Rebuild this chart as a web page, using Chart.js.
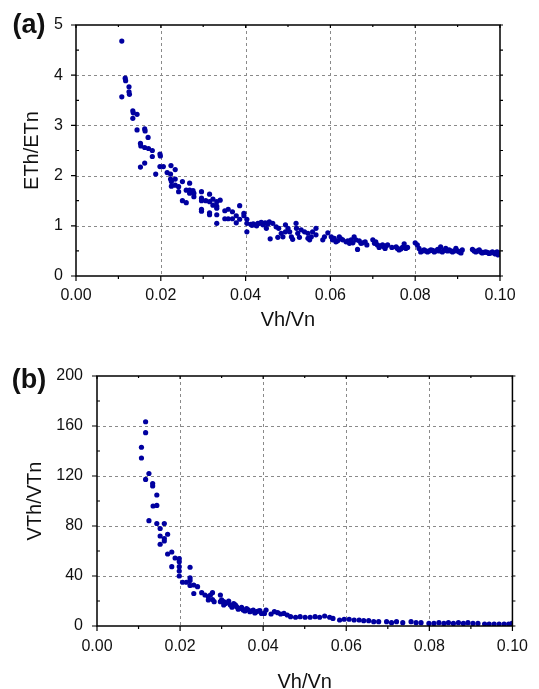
<!DOCTYPE html>
<html><head><meta charset="utf-8">
<script src="https://cdn.jsdelivr.net/npm/chart.js@4.4.1/dist/chart.umd.min.js"></script>
<style>
html,body{margin:0;padding:0;background:#fff;}
#wrap{position:relative;width:539px;height:689px;overflow:hidden;background:#fff;}
canvas{position:absolute;left:0;}
#ca{top:0;width:539px;height:330px;}
#cb{top:330px;width:539px;height:359px;}
</style></head><body>
<div id="wrap"><canvas id="ca" width="539" height="330"></canvas><canvas id="cb" width="539" height="359"></canvas></div>
<script>
// ---- tick labels / axes ----
const xTickValues = [0, 0.02, 0.04, 0.06, 0.08, 0.10];
const etTickValues = [0, 1, 2, 3, 4, 5];
const vtTickValues = [0, 40, 80, 120, 160, 200];
const xMinorValues = [0.01, 0.03, 0.05, 0.07, 0.09];
const etMinorValues = [0.5, 1.5, 2.5, 3.5, 4.5];
const vtMinorValues = [20, 60, 100, 140, 180];

// ---- panel (a): ETh/ETn vs Vh/Vn ----
const etX = [0.0108,0.0116,0.0117,0.0125,0.0125,0.0126,0.0108,0.0134,0.0135,0.0144,0.0134,0.0144,0.0162,0.0163,0.0170,0.0152,0.0153,0.0162,0.0171,0.0180,
0.0198,0.0199,0.0180,0.0162,0.0152,0.0198,0.0206,0.0224,0.0234,0.0188,0.0215,0.0223,0.0223,0.0234,0.0225,0.0234,0.0225,0.0242,0.0242,0.0251,
0.0268,0.0260,0.0268,0.0276,0.0268,0.0278,0.0278,0.0296,0.0315,0.0251,0.0260,0.0296,0.0296,0.0306,0.0315,0.0323,0.0332,0.0340,0.0323,0.0332,
0.0296,0.0296,0.0315,0.0315,0.0332,0.0351,0.0359,0.0369,0.0386,0.0332,0.0332,0.0351,0.0359,0.0369,0.0378,0.0378,0.0386,0.0396,0.0396,0.0403,
0.0403,0.0403,0.0412,0.0415,0.0418,0.0422,0.0426,0.0429,0.0433,0.0437,0.0441,0.0446,0.0449,0.0449,0.0453,0.0456,0.0464,0.0458,0.0472,0.0478,
0.0484,0.0476,0.0494,0.0500,0.0494,0.0488,0.0504,0.0508,0.0511,0.0519,0.0520,0.0523,0.0527,0.0531,0.0539,0.0547,0.0547,0.0555,0.0558,0.0566,
0.0566,0.0551,0.0582,0.0586,0.0594,0.0602,0.0605,0.0609,0.0613,0.0617,0.0621,0.0625,0.0629,0.0637,0.0641,0.0645,0.0649,0.0653,0.0656,0.0660,
0.0664,0.0668,0.0672,0.0676,0.0682,0.0686,0.0700,0.0704,0.0707,0.0711,0.0715,0.0719,0.0723,0.0727,0.0729,0.0731,0.0735,0.0745,0.0755,0.0758,
0.0762,0.0766,0.0770,0.0774,0.0778,0.0782,0.0800,0.0805,0.0809,0.0813,0.0817,0.0821,0.0825,0.0829,0.0833,0.0837,0.0841,0.0845,0.0849,0.0853,
0.0857,0.0860,0.0864,0.0868,0.0872,0.0876,0.0880,0.0884,0.0888,0.0892,0.0896,0.0900,0.0904,0.0908,0.0911,0.0935,0.0939,0.0943,0.0947,0.0951,
0.0955,0.0958,0.0962,0.0966,0.0970,0.0974,0.0978,0.0982,0.0986,0.0989,0.0993,0.0996,0.0999];
const etY = [4.68,3.94,3.89,3.77,3.67,3.62,3.57,3.29,3.25,3.22,3.14,2.91,2.93,2.89,2.76,2.64,2.59,2.56,2.54,2.50,
2.43,2.39,2.38,2.25,2.17,2.18,2.18,2.20,2.12,2.03,2.06,2.03,1.93,1.93,1.88,1.81,1.79,1.78,1.68,1.88,
1.85,1.71,1.71,1.70,1.65,1.65,1.58,1.68,1.63,1.50,1.46,1.55,1.50,1.50,1.48,1.53,1.48,1.51,1.41,1.39,
1.33,1.29,1.26,1.22,1.35,1.30,1.33,1.28,1.40,1.22,1.05,1.14,1.14,1.14,1.20,1.06,1.13,1.25,1.20,1.13,
1.05,0.88,1.03,1.01,1.04,1.02,1.00,1.05,1.05,1.07,1.02,1.06,1.05,0.95,1.04,1.08,1.05,0.74,0.98,0.95,
0.85,0.77,1.02,0.95,0.88,0.78,0.88,0.78,0.73,1.05,0.95,0.85,0.77,0.92,0.88,0.85,0.75,0.78,0.88,0.95,
0.82,0.72,0.72,0.78,0.86,0.78,0.72,0.75,0.68,0.70,0.78,0.74,0.72,0.68,0.70,0.65,0.72,0.66,0.78,0.72,
0.53,0.70,0.65,0.66,0.68,0.62,0.72,0.65,0.68,0.62,0.57,0.60,0.62,0.58,0.55,0.60,0.62,0.57,0.58,0.55,
0.52,0.54,0.57,0.64,0.55,0.57,0.66,0.62,0.55,0.48,0.50,0.52,0.50,0.48,0.50,0.52,0.51,0.48,0.50,0.53,
0.50,0.58,0.48,0.51,0.55,0.50,0.52,0.50,0.48,0.50,0.55,0.50,0.48,0.46,0.52,0.53,0.50,0.48,0.50,0.52,
0.48,0.46,0.47,0.48,0.47,0.45,0.46,0.48,0.46,0.44,0.48,0.42,0.46];

// ---- panel (b): VTh/VTn vs Vh/Vn ----
const vtX = [0.0117,0.0117,0.0107,0.0107,0.0125,0.0117,0.0134,0.0134,0.0144,0.0135,0.0144,0.0125,0.0144,0.0162,0.0152,0.0170,0.0152,0.0162,0.0162,0.0152,
0.0180,0.0170,0.0188,0.0198,0.0198,0.0180,0.0198,0.0224,0.0198,0.0198,0.0224,0.0224,0.0206,0.0215,0.0233,0.0242,0.0224,0.0233,0.0252,0.0260,
0.0268,0.0278,0.0278,0.0268,0.0273,0.0282,0.0297,0.0297,0.0300,0.0305,0.0305,0.0309,0.0313,0.0317,0.0321,0.0325,0.0329,0.0333,0.0336,0.0340,
0.0344,0.0348,0.0352,0.0356,0.0360,0.0364,0.0368,0.0372,0.0376,0.0380,0.0384,0.0388,0.0392,0.0396,0.0403,0.0407,0.0419,0.0427,0.0435,0.0442,
0.0450,0.0458,0.0466,0.0478,0.0489,0.0501,0.0513,0.0525,0.0536,0.0548,0.0560,0.0568,0.0584,0.0595,0.0607,0.0619,0.0631,0.0642,0.0654,0.0666,
0.0678,0.0697,0.0709,0.0721,0.0736,0.0756,0.0768,0.0780,0.0799,0.0811,0.0823,0.0835,0.0846,0.0858,0.0870,0.0882,0.0893,0.0905,0.0917,0.0933,
0.0944,0.0956,0.0968,0.0980,0.0991,0.0999];
const vtY = [163.4,154.7,143.0,134.4,122.0,117.3,114.0,112.0,104.8,96.0,96.5,84.3,82.0,82.0,78.0,73.4,72.0,70.0,68.0,65.4,
59.2,57.6,54.4,54.0,51.5,47.5,47.5,47.0,44.0,40.0,38.6,36.5,35.0,35.0,32.8,31.5,32.5,26.0,26.7,24.8,
23.5,26.7,21.2,20.8,24.8,19.5,24.8,19.5,21.0,16.8,19.5,18.0,18.6,20.0,16.8,15.0,18.0,17.0,15.5,13.5,
14.0,15.0,12.8,12.0,14.0,13.0,11.5,12.0,12.8,10.5,11.5,12.0,12.3,10.0,10.1,12.8,9.6,11.5,10.7,9.6,
10.1,8.8,7.5,7.0,7.5,7.0,7.0,7.5,7.0,8.0,7.0,6.1,4.8,5.4,5.4,4.8,4.8,4.3,4.3,3.5,
3.5,3.5,2.7,3.5,2.7,3.5,2.7,2.7,2.1,2.1,2.7,2.1,2.7,2.1,2.7,2.1,2.7,2.1,2.1,1.6,
1.6,1.6,1.6,1.6,1.6,2.1];

const FONT = "'Liberation Sans', Arial, Helvetica, sans-serif";
const DOT = '#0000a0';

const framePlugin = {
  id: 'frame',
  beforeDatasetsDraw(chart, args, o) {
    const {ctx, chartArea: a, scales: {x, y}} = chart;
    ctx.save();
    ctx.strokeStyle = '#8a8a8a';
    ctx.lineWidth = 1;
    ctx.setLineDash([3, 3]);
    ctx.beginPath();
    o.xMajor.slice(1, -1).forEach(v => {
      const p = Math.round(x.getPixelForValue(v)) + 0.5;
      ctx.moveTo(p, a.top); ctx.lineTo(p, a.bottom);
    });
    o.yMajor.slice(1, -1).forEach(v => {
      const p = Math.round(y.getPixelForValue(v)) + 0.5;
      ctx.moveTo(a.left, p); ctx.lineTo(a.right, p);
    });
    ctx.stroke();
    ctx.restore();
  },
  afterDatasetsDraw(chart, args, o) {
    const {ctx, chartArea: a, scales: {x, y}} = chart;
    ctx.save();
    ctx.strokeStyle = '#000';
    ctx.lineWidth = 1.5;
    ctx.setLineDash([]);
    ctx.strokeRect(a.left, a.top, a.right - a.left, a.bottom - a.top);
    ctx.lineWidth = 1.2;
    ctx.beginPath();
    o.xMajor.forEach(v => {
      const p = x.getPixelForValue(v);
      ctx.moveTo(p, a.bottom); ctx.lineTo(p, a.bottom + 5);
      ctx.moveTo(p, a.top); ctx.lineTo(p, a.top + 3);
    });
    o.xMinor.forEach(v => {
      const p = x.getPixelForValue(v);
      ctx.moveTo(p, a.bottom); ctx.lineTo(p, a.bottom + 3);
      ctx.moveTo(p, a.top); ctx.lineTo(p, a.top + 2);
    });
    o.yMajor.forEach(v => {
      const p = y.getPixelForValue(v);
      ctx.moveTo(a.left, p); ctx.lineTo(a.left - 5, p);
      ctx.moveTo(a.right, p); ctx.lineTo(a.right + 3, p);
    });
    o.yMinor.forEach(v => {
      const p = y.getPixelForValue(v);
      ctx.moveTo(a.left, p); ctx.lineTo(a.left + 3, p);
      ctx.moveTo(a.right, p); ctx.lineTo(a.right + 3, p);
    });
    ctx.stroke();
    ctx.fillStyle = '#111';
    ctx.font = 'bold 27px ' + FONT;
    ctx.textAlign = 'center';
    ctx.textBaseline = 'middle';
    ctx.fillText(o.label, o.labelX, o.labelY);
    ctx.restore();
  }
};

function makeChart(id, xs, ys, g) {
  const pts = xs.map((v, i) => ({x: v, y: ys[i]}));
  return new Chart(document.getElementById(id), {
    type: 'scatter',
    data: {datasets: [{data: pts, pointRadius: 2.6, pointHoverRadius: 2.6, backgroundColor: DOT, borderWidth: 0, pointBorderWidth: 0}]},
    options: {
      responsive: false, animation: false, devicePixelRatio: 1,
      layout: {padding: {left: 0, right: g.padRight, top: g.padTop, bottom: 0}},
      plugins: {
        legend: {display: false}, tooltip: {enabled: false},
        frame: {xMajor: xTickValues, xMinor: xMinorValues, yMajor: g.yMajor, yMinor: g.yMinor, label: g.label, labelX: g.labelX, labelY: g.labelY}
      },
      scales: {
        x: {
          type: 'linear', min: 0, max: 0.1,
          afterBuildTicks: s => { s.ticks = xTickValues.map(v => ({value: v})); },
          afterFit: s => { s.height = g.xHeight; },
          grid: {display: false, drawTicks: false},
          border: {display: false},
          ticks: {color: '#111', padding: g.xTickPad, font: {family: FONT, size: 16}, callback: v => Number(v).toFixed(2), maxRotation: 0, autoSkip: false},
          title: {display: true, text: 'Vh/Vn', color: '#111', font: {family: FONT, size: 20}, padding: {top: 0, bottom: g.xTitlePad}}
        },
        y: {
          type: 'linear', min: g.yMajor[0], max: g.yMajor[g.yMajor.length - 1],
          afterBuildTicks: s => { s.ticks = g.yMajor.map(v => ({value: v})); },
          afterFit: s => { s.width = g.yWidth; },
          grid: {display: false, drawTicks: false},
          border: {display: false},
          ticks: {color: '#111', padding: g.yTickPad, font: {family: FONT, size: 16}, autoSkip: false},
          title: {display: true, text: g.yTitle, color: '#111', font: {family: FONT, size: 20}, padding: {top: g.yTitlePad, bottom: 0}}
        }
      }
    },
    plugins: [framePlugin]
  });
}

makeChart('ca', etX, etY, {
  padRight: 39, padTop: 25, xHeight: 54, yWidth: 76,
  xTickPad: 10, yTickPad: 13, xTitlePad: -2, yTitlePad: 20,
  yMajor: etTickValues, yMinor: etMinorValues, yTitle: 'ETh/ETn',
  label: '(a)', labelX: 29, labelY: 26
});
makeChart('cb', vtX, vtY, {
  padRight: 17, padTop: 46, xHeight: 63, yWidth: 97,
  xTickPad: 11, yTickPad: 14, xTitlePad: -5, yTitlePad: 23,
  yMajor: vtTickValues, yMinor: vtMinorValues, yTitle: 'VTh/VTn',
  label: '(b)', labelX: 29, labelY: 51
});
</script>
</body></html>
